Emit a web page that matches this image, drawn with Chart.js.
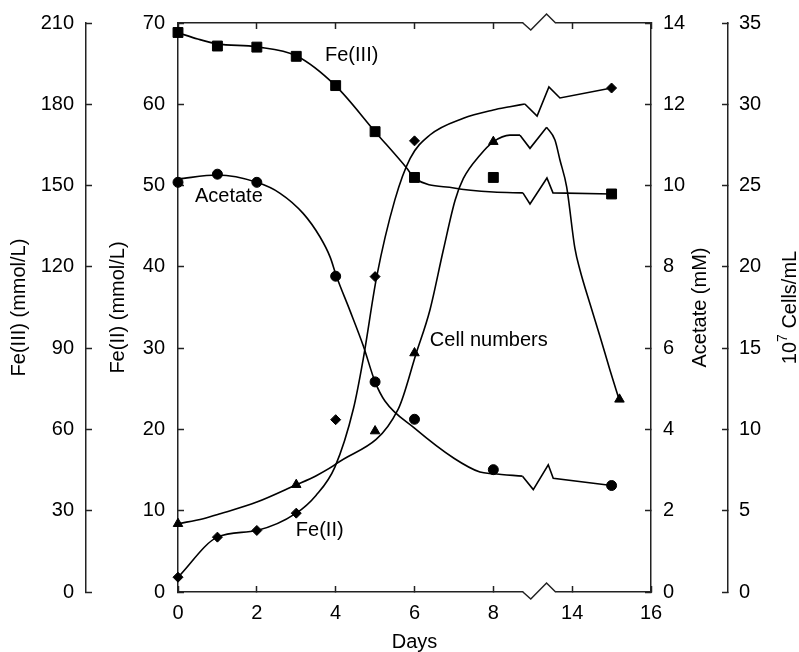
<!DOCTYPE html>
<html>
<head>
<meta charset="utf-8">
<script src="https://cdn.jsdelivr.net/npm/chart.js@4.4.1/dist/chart.umd.min.js"></script>
<style>
  html, body { margin: 0; padding: 0; background: #fff; }
</style>
</head>
<body>
<canvas id="grafico" width="799" height="652"></canvas>
<script>
// x axis is broken between day 8 and day 14
const dayTickLabels = ["0", "2", "4", "6", "8", "14", "16"];

// measured points
const fe3Days = [0, 1, 2, 3, 4, 5, 6, 8, 15];
const fe3Values = [206.5, 201.5, 201.1, 197.7, 186.9, 169.9, 153.0, 153.0, 146.9];

const fe2Days = [0, 1, 2, 3, 4, 5, 6, 15];
const fe2Values = [1.82, 6.75, 7.57, 9.70, 21.2, 38.8, 55.5, 62.0];

const acetateDays = [0, 1, 2, 4, 5, 6, 8, 15];
const acetateValues = [10.08, 10.28, 10.08, 7.77, 5.17, 4.25, 3.01, 2.62];

const cellDays = [0, 3, 5, 6, 8, 15.2];
const cellValues = [4.2, 6.6, 9.9, 14.7, 27.7, 11.85];

// fitted curves (smooth part up to the break)
const fe3CurveDays = [0, 0.5, 1, 2, 3, 4, 5, 5.8, 6, 7, 8, 10.25];
const fe3CurveValues = [206.4, 204.1, 202.3, 201.2, 197.9, 186.8, 169.9, 156.5, 152.8, 149.1, 147.6, 147.3];
const fe3BreakDays = [10.25, 10.79, 12.08, 12.54, 15];
const fe3BreakValues = [147.3, 143.2, 152.8, 147.3, 146.9];

const fe2CurveDays = [0, 1, 2, 3, 3.5, 3.98, 4.45, 4.7, 5.04, 5.5, 5.89, 6.39, 7.24, 8, 9.26, 10.4];
const fe2CurveValues = [1.82, 6.75, 7.57, 9.7, 11.88, 15.37, 22.54, 28.69, 38.77, 48.21, 53.35, 56.22, 58.28, 59.3, 59.7, 60.04];
const fe2BreakDays = [10.4, 11.33, 12.23, 13.07, 15];
const fe2BreakValues = [60.04, 58.56, 62.13, 60.78, 62.0];

const acetateCurveDays = [0, 1, 2, 2.59, 3.18, 3.6, 3.86, 4.02, 4.36, 4.7, 5, 5.25, 6, 7, 7.66, 8, 10.22];
const acetateCurveValues = [10.16, 10.26, 10.08, 9.81, 9.31, 8.74, 8.24, 7.77, 6.93, 6.06, 5.17, 4.7, 4.03, 3.29, 2.95, 2.91, 2.85];
const acetateBreakDays = [10.22, 11.04, 12.18, 12.56, 15];
const acetateBreakValues = [2.85, 2.52, 3.13, 2.8, 2.62];

const cellCurveDays = [0, 0.64, 1.07, 2, 2.97, 3.52, 4.02, 5.59, 6.04, 6.39, 6.73, 7.03, 7.24, 7.66, 8, 9.26, 10.03];
const cellCurveValues = [4.2, 4.51, 4.81, 5.53, 6.56, 7.17, 7.89, 11.27, 14.66, 17.33, 21.02, 24.1, 25.44, 26.87, 27.69, 28.1, 28.1];
const cellBreakDays = [10.03, 10.79, 12.06];
const cellBreakValues = [28.1, 27.29, 28.58];
const cellTailDays = [12.06, 12.69, 13.07, 13.58, 14.07, 14.2, 14.45, 14.71, 14.96, 15.19];
const cellTailValues = [28.58, 27.8, 26.57, 24.92, 21.13, 19.79, 17.74, 15.69, 13.64, 11.85];

// axis break symbol, in days
const axisBreakDays = [10.25, 10.85, 12.05, 12.74];

const FONT = '"Liberation Sans", Arial, Helvetica, sans-serif';

// days 8..14 are squeezed into one tick step
function toAxis(d) {
    if (d <= 8) return d;
    if (d < 14) return 8 + (d - 8) / 3;
    return d - 4;
}

function pts(days, values) {
    return days.map((d, i) => ({ x: toAxis(d), y: values[i] }));
}

function curve(days, values, axis, smooth) {
    return {
        data: pts(days, values),
        yAxisID: axis,
        borderColor: "#000",
        borderWidth: 1.6,
        pointRadius: 0,
        fill: false,
        tension: smooth ? 0.4 : 0,
        cubicInterpolationMode: smooth ? "monotone" : "default",
    };
}

function markers(days, values, axis, style, radius) {
    return {
        data: pts(days, values),
        yAxisID: axis,
        showLine: false,
        pointStyle: style,
        pointRadius: radius,
        pointBackgroundColor: "#000",
        pointBorderColor: "#000",
        pointBorderWidth: 1,
        clip: false,
    };
}

const seriesNotes = [
    { text: "Fe(III)", day: 3.73, fe2: 66.0 },
    { text: "Acetate", day: 0.43, fe2: 48.7 },
    { text: "Cell numbers", day: 6.39, fe2: 31.0 },
    { text: "Fe(II)", day: 2.99, fe2: 7.6 },
];

const extras = {
    id: "extras",
    afterDraw(chart) {
        const ctx = chart.ctx;
        const x = chart.scales.x;
        const yFe2 = chart.scales.yFe2;
        const area = chart.chartArea;
        ctx.save();

        // zigzag breaks on the bottom axis and the top frame
        const bx = axisBreakDays.map((d) => x.getPixelForValue(toAxis(d)));
        [area.bottom, area.top].forEach(function (yLine) {
            ctx.fillStyle = "#fff";
            ctx.fillRect(bx[0] + 0.5, yLine - 2, bx[3] - bx[0] - 1, 4);
            ctx.beginPath();
            ctx.moveTo(bx[0], yLine);
            ctx.lineTo(bx[1], yLine + 7);
            ctx.lineTo(bx[2], yLine - 9);
            ctx.lineTo(bx[3], yLine);
            ctx.strokeStyle = "#222";
            ctx.lineWidth = 1.5;
            ctx.stroke();
        });

        // curve names
        ctx.fillStyle = "#000";
        ctx.font = "20px " + FONT;
        ctx.textAlign = "left";
        ctx.textBaseline = "middle";
        seriesNotes.forEach(function (n) {
            ctx.fillText(n.text, x.getPixelForValue(toAxis(n.day)), yFe2.getPixelForValue(n.fe2));
        });

        // vertical axis titles, all reading bottom to top
        const midY = (area.top + area.bottom) / 2;
        function sideTitle(cx, parts) {
            ctx.save();
            ctx.translate(cx, midY);
            ctx.rotate(-Math.PI / 2);
            ctx.textAlign = "left";
            ctx.textBaseline = "middle";
            let total = 0;
            parts.forEach(function (p) {
                ctx.font = p.size + "px " + FONT;
                p.w = ctx.measureText(p.text).width;
                total += p.w;
            });
            let pos = -total / 2;
            parts.forEach(function (p) {
                ctx.font = p.size + "px " + FONT;
                ctx.fillText(p.text, pos, p.rise || 0);
                pos += p.w;
            });
            ctx.restore();
        }
        sideTitle(chart.scales.yFe3.left + 19, [{ text: "Fe(III) (mmol/L)", size: 20 }]);
        sideTitle(chart.scales.yFe2.left + 32, [{ text: "Fe(II) (mmol/L)", size: 20 }]);
        sideTitle(chart.scales.yAc.left + 49, [{ text: "Acetate (mM)", size: 20 }]);
        sideTitle(chart.scales.yCell.left + 62, [
            { text: "10", size: 20 },
            { text: "7", size: 14, rise: -7 },
            { text: " Cells/mL", size: 20 },
        ]);
        ctx.restore();
    },
};

function yAxis(position, weight, min, max, step, width, pad) {
    return {
        type: "linear",
        position: position,
        weight: weight,
        min: min,
        max: max,
        ticks: { stepSize: step, color: "#000", padding: pad, font: { family: FONT, size: 20 } },
        grid: { drawOnChartArea: false, tickLength: -6, tickColor: "#222", tickWidth: 1.5 },
        border: { color: "#222", width: 1.5 },
        afterFit: function (scale) {
            scale.width = width;
            scale.paddingTop = 0;
            scale.paddingBottom = 0;
        },
    };
}

const graficoCanvas = document.getElementById("grafico");

new Chart(graficoCanvas, {
    type: "line",
    data: {
        datasets: [
            curve(fe3CurveDays, fe3CurveValues, "yFe3", true),
            curve(fe3BreakDays, fe3BreakValues, "yFe3", false),
            curve(fe2CurveDays, fe2CurveValues, "yFe2", true),
            curve(fe2BreakDays, fe2BreakValues, "yFe2", false),
            curve(acetateCurveDays, acetateCurveValues, "yAc", true),
            curve(acetateBreakDays, acetateBreakValues, "yAc", false),
            curve(cellCurveDays, cellCurveValues, "yCell", true),
            curve(cellBreakDays, cellBreakValues, "yCell", false),
            curve(cellTailDays, cellTailValues, "yCell", true),
            markers(fe3Days, fe3Values, "yFe3", "rect", 7),
            markers(fe2Days, fe2Values, "yFe2", "rectRot", 5),
            markers(acetateDays, acetateValues, "yAc", "circle", 5),
            markers(cellDays, cellValues, "yCell", "triangle", 5.5),
        ],
    },
    options: {
        responsive: false,
        animation: false,
        devicePixelRatio: 1,
        layout: { padding: { top: 23, left: 0, right: 0, bottom: 0 } },
        plugins: { legend: { display: false }, tooltip: { enabled: false } },
        scales: {
            x: {
                type: "linear",
                position: "bottom",
                min: 0,
                max: 12,
                ticks: {
                    stepSize: 2,
                    color: "#000",
                    padding: 15,
                    font: { family: FONT, size: 20 },
                    callback: (v) => dayTickLabels[v / 2] ?? "",
                },
                grid: { drawOnChartArea: false, tickLength: -6, tickColor: "#222", tickWidth: 1.5 },
                border: { color: "#222", width: 1.5 },
                title: { display: true, text: "Days", color: "#000", padding: { top: 0, bottom: -2 }, font: { family: FONT, size: 20 } },
                afterFit: function (scale) {
                    scale.height = 60;
                    scale.paddingLeft = 0;
                    scale.paddingRight = 0;
                },
            },
            xTop: {
                type: "linear",
                position: "top",
                min: 0,
                max: 12,
                ticks: { stepSize: 2, display: false },
                grid: { drawOnChartArea: false, tickLength: -6, tickColor: "#222", tickWidth: 1.5 },
                border: { color: "#222", width: 1.5 },
                afterFit: function (scale) {
                    scale.height = 0;
                    scale.paddingLeft = 0;
                    scale.paddingRight = 0;
                },
            },
            yFe2: yAxis("left", 0, 0, 70, 10, 92, 19),
            yFe3: yAxis("left", 1, 0, 210, 30, 86, 18),
            yAc: yAxis("right", 0, 0, 14, 2, 77, 18),
            yCell: yAxis("right", 1, 0, 35, 5, 71, 17),
        },
    },
    plugins: [extras],
});
</script>
</body>
</html>
